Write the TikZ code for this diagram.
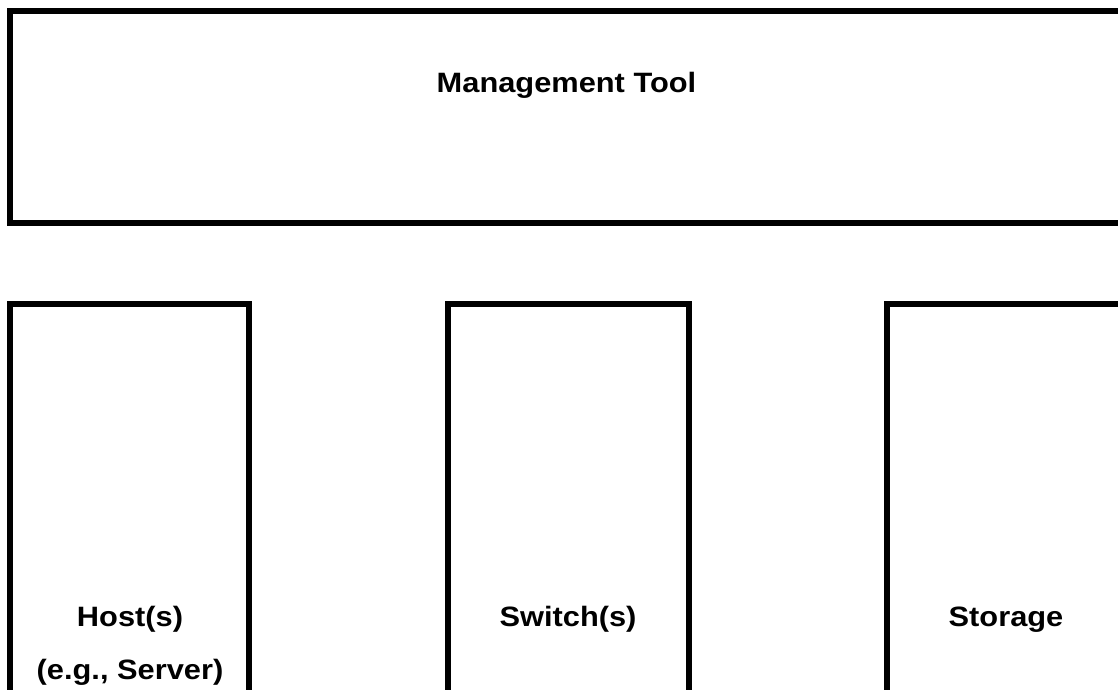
\documentclass[tikz,border=0pt]{standalone}
\usepackage{fontspec}
\setmainfont{Liberation Sans}
\begin{document}
\begin{tikzpicture}[x=1pt,y=-1pt,
  boxline/.style={draw=black,line width=6pt},
  lbl/.style={anchor=base,inner sep=0pt,font=\fontsize{28}{34}\selectfont\bfseries}]
\useasboundingbox (0,0) rectangle (1118,689);
\clip (0,0) rectangle (1118,689);
\fill[white] (0,0) rectangle (1118,689);
\draw[boxline] (10,11) rectangle (1130,223);
\draw[boxline] (10,700) -- (10,304) -- (249,304) -- (249,700);
\draw[boxline] (448,700) -- (448,304) -- (689,304) -- (689,700);
\draw[boxline] (887,700) -- (887,304) -- (1130,304);
\node[lbl] (mt) at (566.5,92) {\scalebox{1.1}[1]{Management Tool}};
\node[lbl] (host) at (130,626) {\scalebox{1.1}[1]{Host(s)}};
\node[lbl] (hostsub) at (130,679) {\scalebox{1.1}[1]{(e.g., Server)}};
\node[lbl] (sw) at (568,626) {\scalebox{1.1}[1]{Switch(s)}};
\node[lbl] (st) at (1006,626) {\scalebox{1.1}[1]{Storage}};
\end{tikzpicture}
\end{document}
